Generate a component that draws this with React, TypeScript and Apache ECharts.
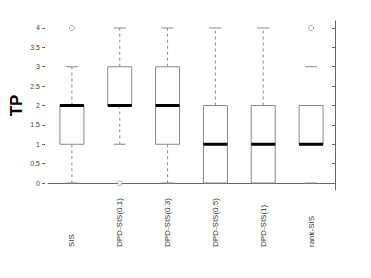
import React, { useEffect, useRef } from "react";
import * as echarts from "echarts";

const categories = ["SIS", "DPD-SIS(0.1)", "DPD-SIS(0.3)", "DPD-SIS(0.5)", "DPD-SIS(1)", "rank-SIS"];
// [min, q1, median, q3, max]
const boxStats = [
  [0, 1, 2, 2, 3],
  [1, 2, 2, 3, 4],
  [0, 1, 2, 3, 4],
  [0, 0, 1, 2, 4],
  [0, 0, 1, 2, 4],
  [0, 1, 1, 2, 3],
];
// whether the dashed whisker stem is visible for each box
const dashedStem = [true, true, true, true, true, false];
// [category index, value]
const outliers = [
  [0, 4],
  [1, 0],
  [5, 4],
];
const yTicks = [0, 0.5, 1, 1.5, 2, 2.5, 3, 3.5, 4];

export default function App() {
  const ref = useRef<HTMLDivElement>(null);
  useEffect(() => {
    const chart = echarts.init(ref.current!, null, { renderer: "svg" });
    const font = "'Liberation Sans', Arial, sans-serif";
    chart.setOption({
      animation: false,
      backgroundColor: "#fff",
      grid: { left: 48, right: 36, top: 21, bottom: 88, outerBoundsMode: "none", containLabel: false },
      xAxis: [
        {
          type: "category",
          data: categories,
          position: "bottom",
          axisLine: { show: false },
          axisTick: { show: false },
          axisLabel: {
            rotate: 90,
            align: "left",
            fontSize: 8,
            color: "#333",
            fontFamily: font,
            margin: 57,
            interval: 0,
          },
        },
        {
          type: "category",
          data: categories,
          position: "top",
          axisLine: { show: true, lineStyle: { color: "#666", width: 1 } },
          axisTick: { show: false },
          axisLabel: { show: false },
        },
      ],
      yAxis: [
        {
          type: "value",
          min: -0.18,
          max: 4.18,
          position: "left",
          offset: 3,
          name: "TP",
          nameLocation: "middle",
          nameGap: 20,
          nameMoveOverlap: false,
          nameRotate: 90,
          nameTextStyle: { fontSize: 17, fontWeight: "bold", color: "#000", fontFamily: font },
          axisLine: { show: false },
          axisTick: { show: true, inside: false, length: 3, customValues: yTicks, lineStyle: { color: "#666" } },
          axisLabel: { fontSize: 7, color: "#444", fontFamily: font, margin: 5, customValues: yTicks, formatter: (v: number) => String(v) },
          splitLine: { show: false },
        },
        {
          type: "value",
          min: -0.18,
          max: 4.18,
          position: "right",
          axisLine: { show: true, lineStyle: { color: "#666", width: 1 } },
          axisTick: { show: true, inside: true, length: 3, customValues: yTicks, lineStyle: { color: "#666" } },
          axisLabel: { show: false },
          splitLine: { show: false },
        },
      ],
      series: [
        {
          type: "custom",
          xAxisIndex: 0,
          yAxisIndex: 0,
          data: boxStats.map((s, i) => [i, ...s]),
          encode: { x: 0, y: [1, 2, 3, 4, 5] },
          renderItem: (params: any, api: any) => {
            const i = api.value(0);
            const mn = api.value(1), q1 = api.value(2), md = api.value(3), q3 = api.value(4), mx = api.value(5);
            const c = api.coord([i, md]);
            const bw = 24;
            const cw = 12;
            const x = c[0];
            const y = (v: number) => api.coord([i, v])[1];
            const grey = "#888";
            const stem = dashedStem[i];
            const children: any[] = [];
            if (mx > q3) {
              if (stem) children.push({ type: "line", shape: { x1: x, y1: y(q3), x2: x, y2: y(mx) }, style: { stroke: grey, lineWidth: 1, lineDash: [3, 3] } });
              children.push({ type: "line", shape: { x1: x - cw / 2, y1: y(mx), x2: x + cw / 2, y2: y(mx) }, style: { stroke: grey, lineWidth: 1 } });
            }
            if (mn < q1) {
              if (stem) children.push({ type: "line", shape: { x1: x, y1: y(q1), x2: x, y2: y(mn) }, style: { stroke: grey, lineWidth: 1, lineDash: [3, 3] } });
              children.push({ type: "line", shape: { x1: x - cw / 2, y1: y(mn), x2: x + cw / 2, y2: y(mn) }, style: { stroke: grey, lineWidth: 1 } });
            }
            children.push({
              type: "rect",
              shape: { x: x - bw / 2, y: y(q3), width: bw, height: y(q1) - y(q3) },
              style: { fill: "#fff", stroke: grey, lineWidth: 1 },
            });
            children.push({ type: "line", shape: { x1: x - bw / 2, y1: y(md), x2: x + bw / 2, y2: y(md) }, style: { stroke: "#000", lineWidth: 3 } });
            return { type: "group", children };
          },
        },
        {
          type: "scatter",
          xAxisIndex: 0,
          yAxisIndex: 0,
          data: outliers,
          symbol: "circle",
          symbolSize: 5,
          itemStyle: { color: "#fff", borderColor: "#777", borderWidth: 0.8 },
        },
      ],
    });
    return () => chart.dispose();
  }, []);
  return <div ref={ref} style={{ width: 371, height: 278, position: "absolute", left: 0, top: 0 }} />;
}
